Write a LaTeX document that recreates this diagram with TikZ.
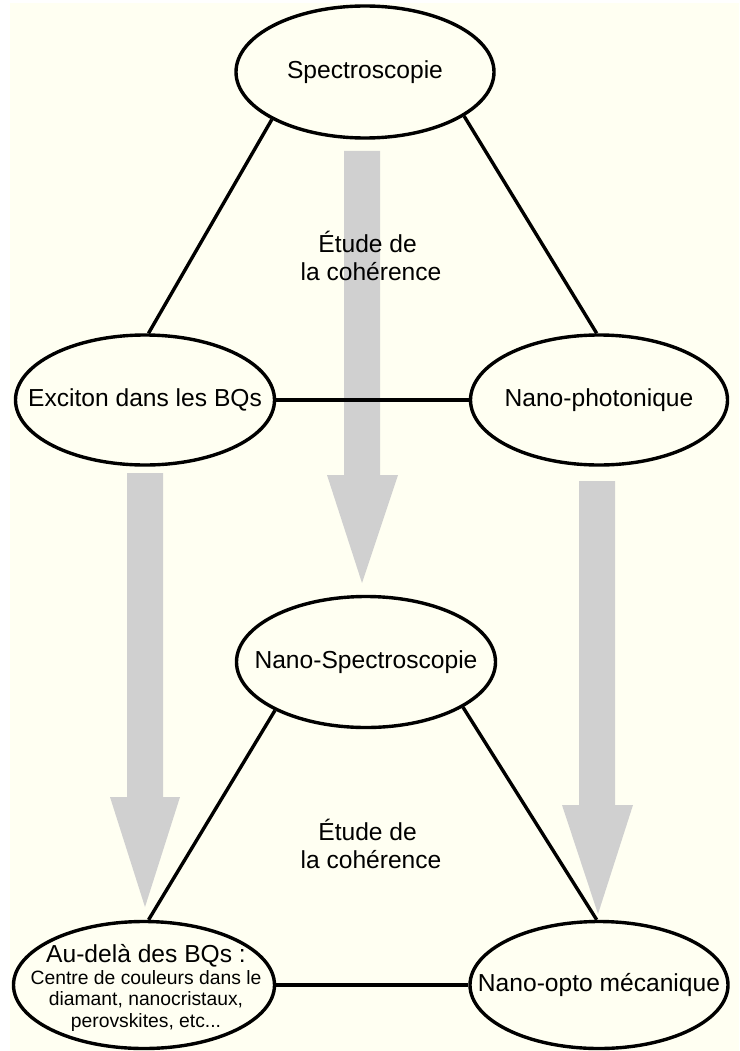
\documentclass[tikz,border=0pt]{standalone}
\usepackage{fontspec}
\setmainfont{Liberation Sans}
\usetikzlibrary{shapes.geometric}
\definecolor{cream}{RGB}{255,255,242}
\definecolor{arrowgray}{RGB}{208,208,208}
\begin{document}
\begin{tikzpicture}[x=1pt,y=-1pt,
  bub/.style={ellipse, draw=black, line width=3.4pt, fill=cream, inner sep=0pt},
  txt/.style={font=\fontsize{24.6}{28}\selectfont, align=center, inner sep=0pt},
  small/.style={font=\fontsize{19.3}{21.5}\selectfont, align=center, inner sep=0pt},
  link/.style={line width=3.4pt, draw=black},
  bigarrow/.style={fill=arrowgray, draw=none}]
\useasboundingbox (0,0) rectangle (739,1051);
\fill[white] (0,0) rectangle (739,1051);
\fill[cream] (10,3) rectangle (739,1051);

% big grey arrows
\fill[bigarrow] (344,151) -- (380,151) -- (380,475) -- (398,475) -- (362,583) -- (327,475) -- (344,475) -- cycle;
\fill[bigarrow] (127,473) -- (163,473) -- (163,797) -- (180,797) -- (145,907) -- (110,797) -- (127,797) -- cycle;
\fill[bigarrow] (579,481) -- (615,481) -- (615,805) -- (633,805) -- (598,914) -- (562,805) -- (579,805) -- cycle;

% ellipses
\node[bub, minimum width=258pt, minimum height=132pt] (spec) at (365,72) {};
\node[bub, minimum width=259pt, minimum height=130pt] (exc) at (145,400) {};
\node[bub, minimum width=257pt, minimum height=130pt] (nph) at (599,400) {};
\node[bub, minimum width=259pt, minimum height=131pt] (nsp) at (366,662) {};
\node[bub, minimum width=261pt, minimum height=127pt] (aud) at (144,985) {};
\node[bub, minimum width=258pt, minimum height=127pt] (nom) at (599,985) {};

% texts
\node[txt] (specT) at (spec.center) {Spectroscopie};
\node[txt] (excT) at (exc.center) {Exciton dans les BQs};
\node[txt] (nphT) at (nph.center) {Nano-photonique};
\node[txt] (nspT) at (nsp.center) {Nano-Spectroscopie};
\node[small, anchor=center] (audT) at (146,988)
  {\fontsize{24.6}{24}\selectfont Au-delà des BQs :\\[0pt]
   Centre de couleurs dans le\\ diamant, nanocristaux,\\ perovskites, etc...};
\node[txt] (nomT) at (nom.center) {Nano-opto mécanique};

% connectors
\draw[link] (spec.207) -- (exc.87);
\draw[link] (spec.336) -- (nph.92);
\draw[link] (exc.east) -- (nph.west);
\draw[link] (nsp.208) -- (aud.86);
\draw[link] (nsp.335) -- (nom.92);
\draw[link] (aud.east) -- (nom.west);

% labels
\node[txt] (coh1) at (371,256) {Étude de\hspace*{6.8pt}\\la cohérence};
\node[txt] (coh2) at (371,844) {Étude de\hspace*{6.8pt}\\la cohérence};
\end{tikzpicture}
\end{document}
